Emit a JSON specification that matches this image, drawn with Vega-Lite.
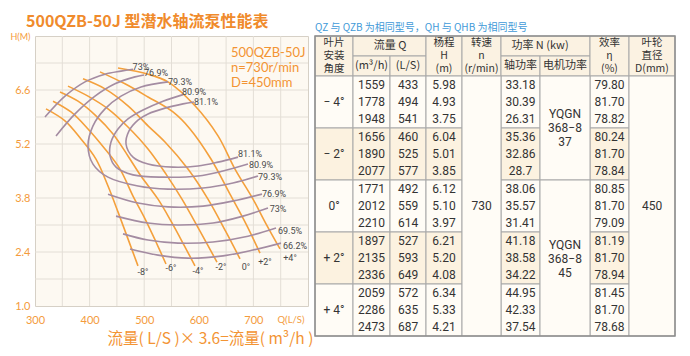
{
  "$schema": "https://vega.github.io/schema/vega-lite/v6.json",
  "background": "white",
  "padding": {"left": 9, "top": 13, "right": 8, "bottom": 4},
  "bounds": "flush",
  "spacing": 7,
  "datasets": {
    "hq": [
      {"a": "-8°", "i": 0, "Q": 320.1, "H": 6.11}, {"a": "-8°", "i": 1, "Q": 354.9, "H": 5.80}, {"a": "-8°", "i": 2, "Q": 384.2, "H": 5.33}, {"a": "-8°", "i": 3, "Q": 411.7, "H": 4.81}, {"a": "-8°", "i": 4, "Q": 433.7, "H": 4.11}, {"a": "-8°", "i": 5, "Q": 452.0, "H": 3.44}, {"a": "-8°", "i": 6, "Q": 470.3, "H": 2.74}, {"a": "-8°", "i": 7, "Q": 488.6, "H": 2.04},
      {"a": "-6°", "i": 0, "Q": 333.0, "H": 6.31}, {"a": "-6°", "i": 1, "Q": 365.9, "H": 6.03}, {"a": "-6°", "i": 2, "Q": 397.1, "H": 5.59}, {"a": "-6°", "i": 3, "Q": 428.2, "H": 5.07}, {"a": "-6°", "i": 4, "Q": 455.7, "H": 4.55}, {"a": "-6°", "i": 5, "Q": 479.5, "H": 3.85}, {"a": "-6°", "i": 6, "Q": 501.5, "H": 3.26}, {"a": "-6°", "i": 7, "Q": 521.6, "H": 2.66}, {"a": "-6°", "i": 8, "Q": 539.9, "H": 2.09},
      {"a": "-4°", "i": 0, "Q": 345.8, "H": 6.55}, {"a": "-4°", "i": 1, "Q": 378.8, "H": 6.31}, {"a": "-4°", "i": 2, "Q": 411.7, "H": 5.93}, {"a": "-4°", "i": 3, "Q": 442.9, "H": 5.46}, {"a": "-4°", "i": 4, "Q": 470.3, "H": 4.89}, {"a": "-4°", "i": 5, "Q": 494.1, "H": 4.37}, {"a": "-4°", "i": 6, "Q": 525.3, "H": 3.77}, {"a": "-4°", "i": 7, "Q": 549.1, "H": 3.20}, {"a": "-4°", "i": 8, "Q": 572.9, "H": 2.58}, {"a": "-4°", "i": 9, "Q": 593.0, "H": 2.04},
      {"a": "-2°", "i": 0, "Q": 360.4, "H": 6.70}, {"a": "-2°", "i": 1, "Q": 397.1, "H": 6.44}, {"a": "-2°", "i": 2, "Q": 433.7, "H": 6.11}, {"a": "-2°", "i": 3, "Q": 470.3, "H": 5.64}, {"a": "-2°", "i": 4, "Q": 507.0, "H": 5.07}, {"a": "-2°", "i": 5, "Q": 539.9, "H": 4.42}, {"a": "-2°", "i": 6, "Q": 569.2, "H": 3.77}, {"a": "-2°", "i": 7, "Q": 602.2, "H": 2.94}, {"a": "-2°", "i": 8, "Q": 633.3, "H": 2.14},
      {"a": "0°", "i": 0, "Q": 387.9, "H": 6.89}, {"a": "0°", "i": 1, "Q": 428.2, "H": 6.63}, {"a": "0°", "i": 2, "Q": 470.3, "H": 6.19}, {"a": "0°", "i": 3, "Q": 507.0, "H": 5.67}, {"a": "0°", "i": 4, "Q": 538.1, "H": 5.25}, {"a": "0°", "i": 5, "Q": 580.2, "H": 4.55}, {"a": "0°", "i": 6, "Q": 616.8, "H": 3.77}, {"a": "0°", "i": 7, "Q": 649.8, "H": 2.92}, {"a": "0°", "i": 8, "Q": 675.5, "H": 2.22},
      {"a": "+2°", "i": 0, "Q": 419.0, "H": 7.07}, {"a": "+2°", "i": 1, "Q": 464.8, "H": 6.76}, {"a": "+2°", "i": 2, "Q": 507.0, "H": 6.42}, {"a": "+2°", "i": 3, "Q": 552.7, "H": 6.03}, {"a": "+2°", "i": 4, "Q": 583.9, "H": 5.59}, {"a": "+2°", "i": 5, "Q": 622.3, "H": 4.81}, {"a": "+2°", "i": 6, "Q": 657.1, "H": 3.90}, {"a": "+2°", "i": 7, "Q": 686.4, "H": 3.13}, {"a": "+2°", "i": 8, "Q": 712.1, "H": 2.37},
      {"a": "+4°", "i": 0, "Q": 452.0, "H": 7.17}, {"a": "+4°", "i": 1, "Q": 507.0, "H": 7.01}, {"a": "+4°", "i": 2, "Q": 543.6, "H": 6.81}, {"a": "+4°", "i": 3, "Q": 593.0, "H": 6.19}, {"a": "+4°", "i": 4, "Q": 635.2, "H": 5.41}, {"a": "+4°", "i": 5, "Q": 666.3, "H": 4.55}, {"a": "+4°", "i": 6, "Q": 699.3, "H": 3.77}, {"a": "+4°", "i": 7, "Q": 723.1, "H": 3.13}, {"a": "+4°", "i": 8, "Q": 748.7, "H": 2.48}
    ],
    "eff": [
      {"s": "81.1", "i": 0, "Q": 591.2, "H": 6.29}, {"s": "81.1", "i": 1, "Q": 571.1, "H": 6.24}, {"s": "81.1", "i": 2, "Q": 538.1, "H": 6.13}, {"s": "81.1", "i": 3, "Q": 507.0, "H": 5.98}, {"s": "81.1", "i": 4, "Q": 488.6, "H": 5.82}, {"s": "81.1", "i": 5, "Q": 472.2, "H": 5.54}, {"s": "81.1", "i": 6, "Q": 466.7, "H": 5.20}, {"s": "81.1", "i": 7, "Q": 479.5, "H": 4.86}, {"s": "81.1", "i": 8, "Q": 507.0, "H": 4.68}, {"s": "81.1", "i": 9, "Q": 552.7, "H": 4.60}, {"s": "81.1", "i": 10, "Q": 598.5, "H": 4.63}, {"s": "81.1", "i": 11, "Q": 635.2, "H": 4.73}, {"s": "81.1", "i": 12, "Q": 671.8, "H": 4.86},
      {"s": "80.9", "i": 0, "Q": 571.1, "H": 6.48}, {"s": "80.9", "i": 1, "Q": 534.4, "H": 6.31}, {"s": "80.9", "i": 2, "Q": 497.8, "H": 6.08}, {"s": "80.9", "i": 3, "Q": 470.3, "H": 5.85}, {"s": "80.9", "i": 4, "Q": 452.0, "H": 5.59}, {"s": "80.9", "i": 5, "Q": 439.2, "H": 5.25}, {"s": "80.9", "i": 6, "Q": 437.4, "H": 4.89}, {"s": "80.9", "i": 7, "Q": 448.4, "H": 4.60}, {"s": "80.9", "i": 8, "Q": 479.5, "H": 4.40}, {"s": "80.9", "i": 9, "Q": 534.4, "H": 4.34}, {"s": "80.9", "i": 10, "Q": 598.5, "H": 4.37}, {"s": "80.9", "i": 11, "Q": 644.3, "H": 4.50}, {"s": "80.9", "i": 12, "Q": 690.1, "H": 4.68},
      {"s": "79.3", "i": 0, "Q": 543.6, "H": 6.81}, {"s": "79.3", "i": 1, "Q": 494.1, "H": 6.68}, {"s": "79.3", "i": 2, "Q": 457.5, "H": 6.44}, {"s": "79.3", "i": 3, "Q": 428.2, "H": 6.11}, {"s": "79.3", "i": 4, "Q": 406.2, "H": 5.67}, {"s": "79.3", "i": 5, "Q": 397.1, "H": 5.15}, {"s": "79.3", "i": 6, "Q": 406.2, "H": 4.68}, {"s": "79.3", "i": 7, "Q": 433.7, "H": 4.34}, {"s": "79.3", "i": 8, "Q": 488.6, "H": 4.11}, {"s": "79.3", "i": 9, "Q": 543.6, "H": 4.03}, {"s": "79.3", "i": 10, "Q": 607.7, "H": 4.06}, {"s": "79.3", "i": 11, "Q": 662.6, "H": 4.19}, {"s": "79.3", "i": 12, "Q": 708.4, "H": 4.37},
      {"s": "76.9u", "i": 0, "Q": 338.5, "H": 5.41}, {"s": "76.9u", "i": 1, "Q": 373.3, "H": 5.98}, {"s": "76.9u", "i": 2, "Q": 409.9, "H": 6.44}, {"s": "76.9u", "i": 3, "Q": 446.5, "H": 6.76}, {"s": "76.9u", "i": 4, "Q": 483.2, "H": 6.94}, {"s": "76.9u", "i": 5, "Q": 499.6, "H": 6.99},
      {"s": "76.9l", "i": 0, "Q": 433.7, "H": 3.90}, {"s": "76.9l", "i": 1, "Q": 488.6, "H": 3.67}, {"s": "76.9l", "i": 2, "Q": 543.6, "H": 3.57}, {"s": "76.9l", "i": 3, "Q": 607.7, "H": 3.59}, {"s": "76.9l", "i": 4, "Q": 671.8, "H": 3.75}, {"s": "76.9l", "i": 5, "Q": 715.8, "H": 3.90},
      {"s": "73u", "i": 0, "Q": 318.3, "H": 5.90}, {"s": "73u", "i": 1, "Q": 354.9, "H": 6.44}, {"s": "73u", "i": 2, "Q": 391.6, "H": 6.81}, {"s": "73u", "i": 3, "Q": 428.2, "H": 7.01}, {"s": "73u", "i": 4, "Q": 457.5, "H": 7.09}, {"s": "73u", "i": 5, "Q": 479.5, "H": 7.14},
      {"s": "73l", "i": 0, "Q": 448.4, "H": 3.33}, {"s": "73l", "i": 1, "Q": 507.0, "H": 3.15}, {"s": "73l", "i": 2, "Q": 561.9, "H": 3.10}, {"s": "73l", "i": 3, "Q": 626.0, "H": 3.15}, {"s": "73l", "i": 4, "Q": 680.9, "H": 3.33}, {"s": "73l", "i": 5, "Q": 726.7, "H": 3.54},
      {"s": "69.5", "i": 0, "Q": 461.2, "H": 2.87}, {"s": "69.5", "i": 1, "Q": 507.0, "H": 2.71}, {"s": "69.5", "i": 2, "Q": 561.9, "H": 2.63}, {"s": "69.5", "i": 3, "Q": 626.0, "H": 2.66}, {"s": "69.5", "i": 4, "Q": 690.1, "H": 2.81}, {"s": "69.5", "i": 5, "Q": 741.4, "H": 3.02},
      {"s": "66.2", "i": 0, "Q": 474.0, "H": 2.48}, {"s": "66.2", "i": 1, "Q": 525.3, "H": 2.32}, {"s": "66.2", "i": 2, "Q": 580.2, "H": 2.24}, {"s": "66.2", "i": 3, "Q": 644.3, "H": 2.30}, {"s": "66.2", "i": 4, "Q": 699.3, "H": 2.45}, {"s": "66.2", "i": 5, "Q": 750.5, "H": 2.63}
    ],
    "effl": [
      {"t": "73%", "Q": 494.1, "H": 7.20}, {"t": "76.9%", "Q": 521.6, "H": 7.04}, {"t": "79.3%", "Q": 565.6, "H": 6.81}, {"t": "80.9%", "Q": 591.2, "H": 6.55}, {"t": "81.1%", "Q": 613.2, "H": 6.29},
      {"t": "81.1%", "Q": 693.8, "H": 4.93}, {"t": "80.9%", "Q": 713.9, "H": 4.66}, {"t": "79.3%", "Q": 730.4, "H": 4.34}, {"t": "76.9%", "Q": 737.7, "H": 3.90}, {"t": "73%", "Q": 745.1, "H": 3.51}, {"t": "69.5%", "Q": 767.0, "H": 2.94}, {"t": "66.2%", "Q": 776.2, "H": 2.56}
    ],
    "angl": [
      {"t": "-8°", "Q": 497.8, "H": 1.88}, {"t": "-6°", "Q": 549.1, "H": 1.99}, {"t": "-4°", "Q": 598.5, "H": 1.91}, {"t": "-2°", "Q": 640.7, "H": 2.01}, {"t": "0°", "Q": 686.4, "H": 2.01}, {"t": "+2°", "Q": 721.2, "H": 2.14}, {"t": "+4°", "Q": 767.0, "H": 2.24}
    ],
    "cells": [
      {"c0": 0, "c1": 1, "r0": -2.5, "r1": -0.5, "k": "h"}, {"c0": 1, "c1": 3, "r0": -2.5, "r1": -1.5, "k": "h"}, {"c0": 1, "c1": 2, "r0": -1.5, "r1": -0.5, "k": "h"}, {"c0": 2, "c1": 3, "r0": -1.5, "r1": -0.5, "k": "h"}, {"c0": 3, "c1": 4, "r0": -2.5, "r1": -0.5, "k": "h"}, {"c0": 4, "c1": 5, "r0": -2.5, "r1": -0.5, "k": "h"}, {"c0": 5, "c1": 7, "r0": -2.5, "r1": -1.5, "k": "h"}, {"c0": 5, "c1": 6, "r0": -1.5, "r1": -0.5, "k": "h"}, {"c0": 6, "c1": 7, "r0": -1.5, "r1": -0.5, "k": "h"}, {"c0": 7, "c1": 8, "r0": -2.5, "r1": -0.5, "k": "h"}, {"c0": 8, "c1": 9, "r0": -2.5, "r1": -0.5, "k": "h"},
      {"c0": 0, "c1": 1, "r0": -0.5, "r1": 2.5, "k": "w"}, {"c0": 1, "c1": 2, "r0": -0.5, "r1": 2.5, "k": "w"}, {"c0": 2, "c1": 3, "r0": -0.5, "r1": 2.5, "k": "w"}, {"c0": 3, "c1": 4, "r0": -0.5, "r1": 2.5, "k": "w"}, {"c0": 5, "c1": 6, "r0": -0.5, "r1": 2.5, "k": "w"}, {"c0": 7, "c1": 8, "r0": -0.5, "r1": 2.5, "k": "w"},
      {"c0": 0, "c1": 1, "r0": 2.5, "r1": 5.5, "k": "s"}, {"c0": 1, "c1": 2, "r0": 2.5, "r1": 5.5, "k": "s"}, {"c0": 2, "c1": 3, "r0": 2.5, "r1": 5.5, "k": "s"}, {"c0": 3, "c1": 4, "r0": 2.5, "r1": 5.5, "k": "s"}, {"c0": 5, "c1": 6, "r0": 2.5, "r1": 5.5, "k": "s"}, {"c0": 7, "c1": 8, "r0": 2.5, "r1": 5.5, "k": "s"},
      {"c0": 0, "c1": 1, "r0": 5.5, "r1": 8.5, "k": "w"}, {"c0": 1, "c1": 2, "r0": 5.5, "r1": 8.5, "k": "w"}, {"c0": 2, "c1": 3, "r0": 5.5, "r1": 8.5, "k": "w"}, {"c0": 3, "c1": 4, "r0": 5.5, "r1": 8.5, "k": "w"}, {"c0": 5, "c1": 6, "r0": 5.5, "r1": 8.5, "k": "w"}, {"c0": 7, "c1": 8, "r0": 5.5, "r1": 8.5, "k": "w"},
      {"c0": 0, "c1": 1, "r0": 8.5, "r1": 11.5, "k": "s"}, {"c0": 1, "c1": 2, "r0": 8.5, "r1": 11.5, "k": "s"}, {"c0": 2, "c1": 3, "r0": 8.5, "r1": 11.5, "k": "s"}, {"c0": 3, "c1": 4, "r0": 8.5, "r1": 11.5, "k": "s"}, {"c0": 5, "c1": 6, "r0": 8.5, "r1": 11.5, "k": "s"}, {"c0": 7, "c1": 8, "r0": 8.5, "r1": 11.5, "k": "s"},
      {"c0": 0, "c1": 1, "r0": 11.5, "r1": 14.5, "k": "w"}, {"c0": 1, "c1": 2, "r0": 11.5, "r1": 14.5, "k": "w"}, {"c0": 2, "c1": 3, "r0": 11.5, "r1": 14.5, "k": "w"}, {"c0": 3, "c1": 4, "r0": 11.5, "r1": 14.5, "k": "w"}, {"c0": 5, "c1": 6, "r0": 11.5, "r1": 14.5, "k": "w"}, {"c0": 7, "c1": 8, "r0": 11.5, "r1": 14.5, "k": "w"},
      {"c0": 4, "c1": 5, "r0": -0.5, "r1": 14.5, "k": "w"}, {"c0": 8, "c1": 9, "r0": -0.5, "r1": 14.5, "k": "w"}, {"c0": 6, "c1": 7, "r0": -0.5, "r1": 5.5, "k": "w"}, {"c0": 6, "c1": 7, "r0": 5.5, "r1": 14.5, "k": "w"}
    ],
    "hdr": [
      {"t": "流量 Q", "c": 2, "r": -2}, {"t": "(m³/h)", "c": 1.5, "r": -1}, {"t": "(L/S)", "c": 2.5, "r": -1}, {"t": "功率 N  (kw)", "c": 6, "r": -2}, {"t": "轴功率", "c": 5.5, "r": -1}, {"t": "电机功率", "c": 6.5, "r": -1}
    ],
    "hdr3": [
      {"t": "叶片\n安装\n角度", "c": 0.5, "r": -2.15}, {"t": "杨程\nH\n(m)", "c": 3.5, "r": -2.15}, {"t": "转速\nn\n(r/min)", "c": 4.5, "r": -2.15}, {"t": "效率\nη\n(%)", "c": 7.5, "r": -2.15}, {"t": "叶轮\n直径\nD(mm)", "c": 8.5, "r": -2.15}
    ],
    "rows": [
      {"row": 0, "m3h": "1559", "ls": "433", "H": "5.98", "shaft": "33.18", "eff": "79.80"},
      {"row": 1, "m3h": "1778", "ls": "494", "H": "4.93", "shaft": "30.39", "eff": "81.70"},
      {"row": 2, "m3h": "1948", "ls": "541", "H": "3.75", "shaft": "26.31", "eff": "78.82"},
      {"row": 3, "m3h": "1656", "ls": "460", "H": "6.04", "shaft": "35.36", "eff": "80.24"},
      {"row": 4, "m3h": "1890", "ls": "525", "H": "5.01", "shaft": "32.86", "eff": "81.70"},
      {"row": 5, "m3h": "2077", "ls": "577", "H": "3.85", "shaft": "28.7", "eff": "78.84"},
      {"row": 6, "m3h": "1771", "ls": "492", "H": "6.12", "shaft": "38.06", "eff": "80.85"},
      {"row": 7, "m3h": "2012", "ls": "559", "H": "5.10", "shaft": "35.57", "eff": "81.70"},
      {"row": 8, "m3h": "2210", "ls": "614", "H": "3.97", "shaft": "31.41", "eff": "79.09"},
      {"row": 9, "m3h": "1897", "ls": "527", "H": "6.21", "shaft": "41.18", "eff": "81.19"},
      {"row": 10, "m3h": "2135", "ls": "593", "H": "5.20", "shaft": "38.58", "eff": "81.70"},
      {"row": 11, "m3h": "2336", "ls": "649", "H": "4.08", "shaft": "34.22", "eff": "78.94"},
      {"row": 12, "m3h": "2059", "ls": "572", "H": "6.34", "shaft": "44.95", "eff": "81.45"},
      {"row": 13, "m3h": "2286", "ls": "635", "H": "5.33", "shaft": "42.33", "eff": "81.70"},
      {"row": 14, "m3h": "2473", "ls": "687", "H": "4.21", "shaft": "37.54", "eff": "78.68"}
    ],
    "groups": [
      {"t": "− 4°", "r": 1}, {"t": "− 2°", "r": 4}, {"t": "0°", "r": 7}, {"t": "+ 2°", "r": 10}, {"t": "+ 4°", "r": 13}
    ],
    "spans": [
      {"t": "730", "c": 4.5, "r": 7}, {"t": "450", "c": 8.5, "r": 7}, {"t": "YQGN\n368−8\n37", "c": 6.5, "r": 1.69}, {"t": "YQGN\n368−8\n45", "c": 6.5, "r": 9.25}
    ]
  },
  "hconcat": [
    {
      "width": 273,
      "height": 270,
      "view": {"fill": "#fdf9f2", "stroke": "#d6d0c6"},
      "title": {"text": "500QZB-50J 型潜水轴流泵性能表", "anchor": "start", "frame": "group", "dx": -9, "offset": 2, "fontSize": 16, "fontWeight": "bold", "color": "#f08b2c", "font": "Noto Sans CJK SC"},
      "layer": [
        {
          "data": {"values": [{"g": 350}, {"g": 400}, {"g": 450}, {"g": 500}, {"g": 550}, {"g": 600}, {"g": 650}, {"g": 700}, {"g": 750}]},
          "mark": {"type": "rule", "color": "#e3ded6", "strokeWidth": 1},
          "encoding": {
            "x": {"field": "g", "type": "quantitative", "scale": {"domain": [300, 800], "nice": false, "zero": false},
              "axis": {
                "values": [300, 400, 500, 600, 700, 800],
                "format": "d", "grid": false, "domain": false, "ticks": false,
                "labelExpr": "datum.value == 800 ? 'Q(L/S)' : datum.label",
                "labelColor": "#f49b3c", "labelFont": "Lato", "labelPadding": 8, "labelOverlap": false, "labelFlush": false,
                "labelFontSize": {"condition": {"test": "datum.value == 800", "value": 9.5}, "value": 11},
                "labelAlign": {"condition": {"test": "datum.value == 800", "value": "right"}, "value": "center"},
                "labelOffset": {"condition": {"test": "datum.value == 800", "value": -4}, "value": 0},
                "title": "流量( L/S )× 3.6=流量( m³/h )", "titleColor": "#f39433", "titleFont": "Noto Sans CJK SC", "titleFontSize": 15.5, "titleFontWeight": "normal",
                "titleX": 175, "titleY": 32, "titleBaseline": "middle", "titleAlign": "center", "titleAnchor": null
              }}
          }
        },
        {
          "data": {"values": [{"g": 1.7}, {"g": 2.4}, {"g": 3.1}, {"g": 3.8}, {"g": 4.5}, {"g": 5.2}, {"g": 5.9}, {"g": 6.6}, {"g": 7.3}]},
          "mark": {"type": "rule", "color": "#e3ded6", "strokeWidth": 1},
          "encoding": {
            "y": {"field": "g", "type": "quantitative", "scale": {"domain": [1, 8], "nice": false, "zero": false},
              "axis": {
                "values": [1, 2.4, 3.8, 5.2, 6.6, 8],
                "labelExpr": "datum.value == 8 ? 'H(M)' : format(datum.value, '.1f')",
                "grid": false, "domain": false, "ticks": false,
                "labelColor": "#f49b3c", "labelFont": "Lato", "labelPadding": 5, "labelOverlap": false, "labelFlush": false,
                "labelFontSize": {"condition": {"test": "datum.value == 8", "value": 9}, "value": 11},
                "title": null
              }}
          }
        },
        {
          "data": {"name": "hq"},
          "mark": {"type": "line", "color": "#f4a03c", "strokeWidth": 1.6, "interpolate": "catmull-rom"},
          "encoding": {
            "x": {"field": "Q", "type": "quantitative"},
            "y": {"field": "H", "type": "quantitative"},
            "detail": {"field": "a", "type": "nominal"},
            "order": {"field": "i", "type": "quantitative"}
          }
        },
        {
          "data": {"name": "eff"},
          "mark": {"type": "line", "color": "#a48ca2", "strokeWidth": 1.6, "interpolate": "catmull-rom"},
          "encoding": {
            "x": {"field": "Q", "type": "quantitative"},
            "y": {"field": "H", "type": "quantitative"},
            "detail": {"field": "s", "type": "nominal"},
            "order": {"field": "i", "type": "quantitative"}
          }
        },
        {
          "data": {"name": "effl"},
          "mark": {"type": "text", "color": "#4a4a4a", "fontSize": 9, "font": "Liberation Sans Narrow, Roboto", "align": "center", "baseline": "middle"},
          "encoding": {
            "x": {"field": "Q", "type": "quantitative"},
            "y": {"field": "H", "type": "quantitative"},
            "text": {"field": "t", "type": "nominal"}
          }
        },
        {
          "data": {"name": "angl"},
          "mark": {"type": "text", "color": "#4a4a4a", "fontSize": 9, "font": "Liberation Sans Narrow, Roboto", "align": "center", "baseline": "middle"},
          "encoding": {
            "x": {"field": "Q", "type": "quantitative"},
            "y": {"field": "H", "type": "quantitative"},
            "text": {"field": "t", "type": "nominal"}
          }
        },
        {
          "data": {"values": [{"t": "500QZB-50J\nn=730r/min\nD=450mm", "Q": 659, "H": 7.72}]},
          "mark": {"type": "text", "color": "#f39433", "fontSize": 13, "font": "Lato", "align": "left", "baseline": "top", "lineBreak": "\n", "lineHeight": 15},
          "encoding": {
            "x": {"field": "Q", "type": "quantitative"},
            "y": {"field": "H", "type": "quantitative"},
            "text": {"field": "t", "type": "nominal"}
          }
        }
      ]
    },
    {
      "width": 360,
      "height": 300,
      "view": {"stroke": null},
      "title": {"text": "QZ 与 QZB 为相同型号，QH 与 QHB 为相同型号", "anchor": "start", "frame": "group", "offset": 2, "fontSize": 10, "fontWeight": "normal", "color": "#3f9ad8", "font": "Noto Sans CJK SC"},
      "layer": [
        {
          "data": {"name": "cells"},
          "mark": {"type": "rect", "stroke": "#a8a8a8", "strokeWidth": 1},
          "encoding": {
            "x": {"field": "c0", "type": "quantitative", "scale": {"domain": [0, 1, 2, 3, 4, 5, 6, 7, 8, 9], "range": [0, 38, 75, 111, 147, 186, 225, 275, 314, 360], "nice": false, "zero": false}, "axis": null},
            "x2": {"field": "c1"},
            "y": {"field": "r0", "type": "quantitative", "scale": {"domain": [-2.5, -1.5, -0.5, 14.5], "range": [0, 20, 40, 300], "nice": false, "zero": false}, "axis": null},
            "y2": {"field": "r1"},
            "fill": {"field": "k", "type": "nominal", "scale": {"domain": ["h", "s", "w"], "range": ["#fbf2e2", "#fcf2e0", "#fffcf6"]}, "legend": null}
          }
        },
        {
          "data": {"values": [{}]},
          "mark": {"type": "rect", "fill": null, "stroke": "#8f8f8f", "strokeWidth": 1.5},
          "encoding": {
            "x": {"datum": 0, "type": "quantitative"},
            "x2": {"datum": 9},
            "y": {"datum": -2.5, "type": "quantitative"},
            "y2": {"datum": 14.5}
          }
        },
        {
          "data": {"name": "hdr"},
          "mark": {"type": "text", "color": "#333333", "fontSize": 11, "font": "Noto Sans CJK SC", "align": "center", "baseline": "middle"},
          "encoding": {
            "x": {"field": "c", "type": "quantitative"},
            "y": {"field": "r", "type": "quantitative"},
            "text": {"field": "t", "type": "nominal"}
          }
        },
        {
          "data": {"name": "hdr3"},
          "mark": {"type": "text", "color": "#333333", "fontSize": 10.5, "font": "Noto Sans CJK SC", "align": "center", "baseline": "middle", "lineBreak": "\n", "lineHeight": 13},
          "encoding": {
            "x": {"field": "c", "type": "quantitative"},
            "y": {"field": "r", "type": "quantitative"},
            "text": {"field": "t", "type": "nominal"}
          }
        },
        {
          "data": {"name": "rows"},
          "mark": {"type": "text", "color": "#333333", "fontSize": 12, "font": "Liberation Sans Narrow, Roboto", "align": "center", "baseline": "middle"},
          "encoding": {"x": {"datum": 1.5, "type": "quantitative"}, "y": {"field": "row", "type": "quantitative"}, "text": {"field": "m3h", "type": "nominal"}}
        },
        {
          "data": {"name": "rows"},
          "mark": {"type": "text", "color": "#333333", "fontSize": 12, "font": "Liberation Sans Narrow, Roboto", "align": "center", "baseline": "middle"},
          "encoding": {"x": {"datum": 2.5, "type": "quantitative"}, "y": {"field": "row", "type": "quantitative"}, "text": {"field": "ls", "type": "nominal"}}
        },
        {
          "data": {"name": "rows"},
          "mark": {"type": "text", "color": "#333333", "fontSize": 12, "font": "Liberation Sans Narrow, Roboto", "align": "center", "baseline": "middle"},
          "encoding": {"x": {"datum": 3.5, "type": "quantitative"}, "y": {"field": "row", "type": "quantitative"}, "text": {"field": "H", "type": "nominal"}}
        },
        {
          "data": {"name": "rows"},
          "mark": {"type": "text", "color": "#333333", "fontSize": 12, "font": "Liberation Sans Narrow, Roboto", "align": "center", "baseline": "middle"},
          "encoding": {"x": {"datum": 5.5, "type": "quantitative"}, "y": {"field": "row", "type": "quantitative"}, "text": {"field": "shaft", "type": "nominal"}}
        },
        {
          "data": {"name": "rows"},
          "mark": {"type": "text", "color": "#333333", "fontSize": 12, "font": "Liberation Sans Narrow, Roboto", "align": "center", "baseline": "middle"},
          "encoding": {"x": {"datum": 7.5, "type": "quantitative"}, "y": {"field": "row", "type": "quantitative"}, "text": {"field": "eff", "type": "nominal"}}
        },
        {
          "data": {"name": "groups"},
          "mark": {"type": "text", "color": "#333333", "fontSize": 12, "font": "Liberation Sans Narrow, Roboto", "align": "center", "baseline": "middle"},
          "encoding": {"x": {"datum": 0.5, "type": "quantitative"}, "y": {"field": "r", "type": "quantitative"}, "text": {"field": "t", "type": "nominal"}}
        },
        {
          "data": {"name": "spans"},
          "mark": {"type": "text", "color": "#333333", "fontSize": 12, "font": "Liberation Sans Narrow, Roboto", "align": "center", "baseline": "middle", "lineBreak": "\n", "lineHeight": 14},
          "encoding": {"x": {"field": "c", "type": "quantitative"}, "y": {"field": "r", "type": "quantitative"}, "text": {"field": "t", "type": "nominal"}}
        }
      ]
    }
  ]
}
